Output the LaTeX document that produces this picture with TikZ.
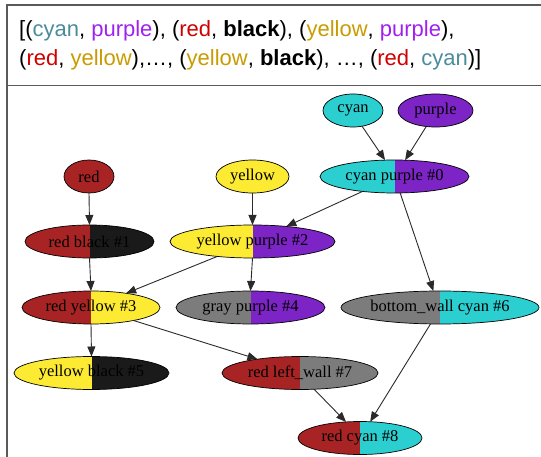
\documentclass[tikz,border=0pt]{standalone}
\usepackage{fontspec}
\setmainfont{Liberation Serif}
\newfontfamily\hdrfont{Liberation Sans}
\usetikzlibrary{shapes.geometric,arrows.meta}
\definecolor{cRed}{HTML}{A82424}
\definecolor{cBlack}{HTML}{1A1A1A}
\definecolor{cYellow}{HTML}{FDEB33}
\definecolor{cPurple}{HTML}{7D24C6}
\definecolor{cCyan}{HTML}{2CCFD0}
\definecolor{cGray}{HTML}{7C7C7C}
\definecolor{tCyan}{HTML}{4A8C9C}
\definecolor{tPurple}{HTML}{A020F0}
\definecolor{tRed}{HTML}{D00000}
\definecolor{tYellow}{HTML}{C89B00}
\definecolor{frameC}{HTML}{5A5A5A}
\definecolor{edgeC}{HTML}{2A2A2A}
\begin{document}
\begin{tikzpicture}[x=1pt,y=-1pt,
  gnode/.style={ellipse, draw=black, line width=0.7pt, inner sep=0pt, outer sep=0pt,
    minimum height=33pt, font=\fontsize{16.5}{18}\selectfont},
  mono/.style={gnode, fill=#1},
  duo/.style 2 args={gnode, path picture={
    \fill[#1] (path picture bounding box.south west) rectangle (path picture bounding box.north);
    \fill[#2] (path picture bounding box.south) rectangle (path picture bounding box.north east);}},
  edge/.style={draw=edgeC, line width=0.9pt, -{Triangle[length=10pt,width=8pt]}},
  frameline/.style={draw=frameC, line width=1.3pt},
  hdr/.style={anchor=base west, inner sep=0pt, font=\hdrfont\fontsize{22}{29}\selectfont}
]
\useasboundingbox (0,0) rectangle (541,457);
% frame
\draw[frameline] (7,457) -- (7,5) -- (541,5);
\draw[frameline] (7,85.5) -- (541,85.5);
% header
\node[hdr] (h1) at (19,37) {[(\textcolor{tCyan}{cyan}, \textcolor{tPurple}{purple}), (\textcolor{tRed}{red}, \textbf{black}), (\textcolor{tYellow}{yellow}, \textcolor{tPurple}{purple}),};
\node[hdr] (h2) at (19,66) {(\textcolor{tRed}{red}, \textcolor{tYellow}{yellow}),…, (\textcolor{tYellow}{yellow}, \textbf{black}), …, (\textcolor{tRed}{red}, \textcolor{tCyan}{cyan})]};
% nodes
\node[mono=cCyan, minimum width=60pt] (cyan) at (353,110.5) {cyan};
\node[mono=cPurple, minimum width=75pt] (purple) at (435.5,110.5) {purple};
\node[duo={cCyan}{cPurple}, minimum width=149pt] (cp0) at (394.5,176.5) {cyan purple \#0};
\node[mono=cRed, minimum width=50pt] (red) at (89,176.5) {red};
\node[mono=cYellow, minimum width=73pt] (yellow) at (252.5,176.5) {yellow};
\node[duo={cRed}{cBlack}, minimum width=129pt] (rb1) at (89.5,241.5) {red black \#1};
\node[duo={cYellow}{cPurple}, minimum width=165pt] (yp2) at (252.5,241.5) {yellow purple \#2};
\node[duo={cRed}{cYellow}, minimum width=138pt] (ry3) at (91,307.5) {red yellow \#3};
\node[duo={cGray}{cPurple}, minimum width=149pt] (gp4) at (250.5,307.5) {gray purple \#4};
\node[duo={cGray}{cCyan}, minimum width=198pt] (bw6) at (440,307.5) {bottom\_wall cyan \#6};
\node[duo={cYellow}{cBlack}, minimum width=155pt] (yb5) at (91.5,373) {yellow black \#5};
\node[duo={cRed}{cGray}, minimum width=156pt] (rl7) at (300,373) {red left\_wall \#7};
\node[duo={cRed}{cCyan}, minimum width=124pt] (rc8) at (360,438) {red cyan \#8};
% edges
\draw[edge] (cyan.-60) -- (cp0.120);
\draw[edge] (purple.-120) -- (cp0.57);
\draw[edge] (cp0.-155) -- (yp2.24);
\draw[edge] (cp0.-71) -- (bw6.112);
\draw[edge] (red.south) -- (rb1.north);
\draw[edge] (yellow.south) -- (yp2.north);
\draw[edge] (rb1.south) -- (ry3.north);
\draw[edge] (yp2.-157) -- (ry3.22);
\draw[edge] (yp2.south) -- (gp4.north);
\draw[edge] (ry3.south) -- (yb5.north);
\draw[edge] (ry3.-17) -- (rl7.162);
\draw[edge] (bw6.-120) -- (rc8.58);
\draw[edge] (rl7.-49) -- (rc8.131);
\end{tikzpicture}
\end{document}
